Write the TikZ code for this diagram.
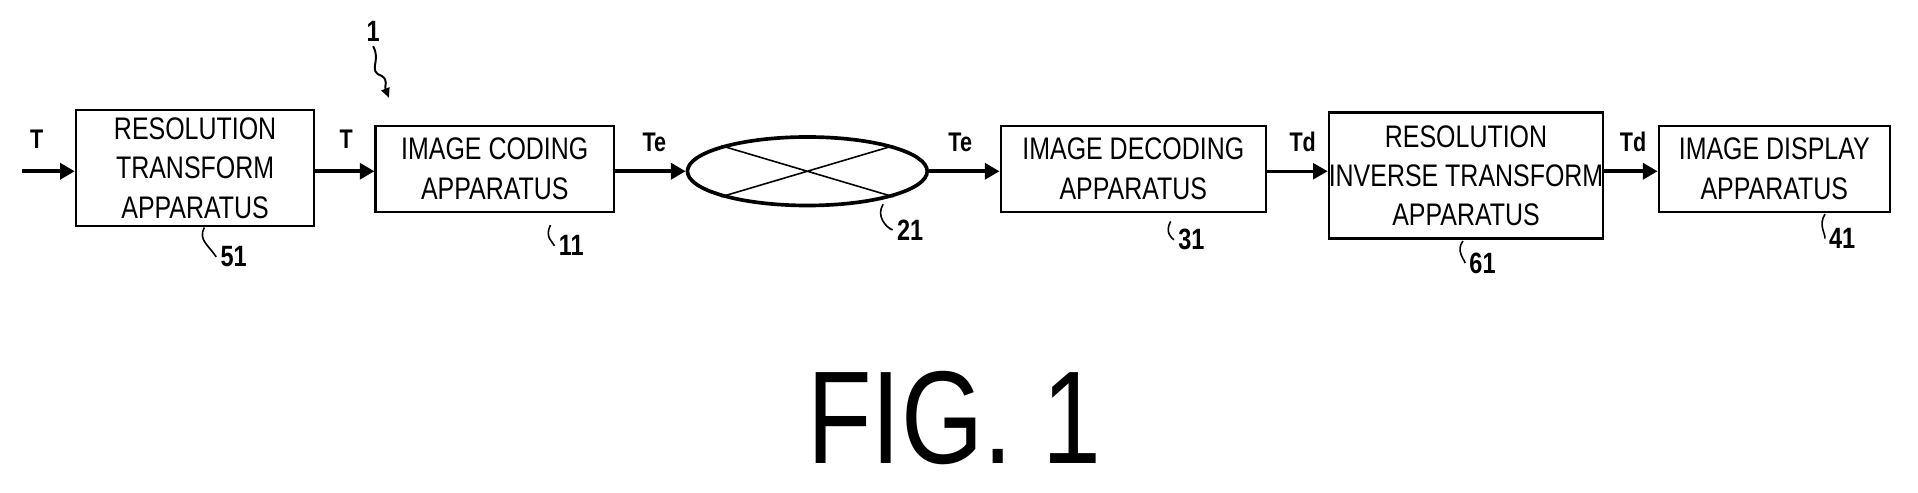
\documentclass[tikz,border=0pt]{standalone}
\usepackage{fontspec}
\setmainfont{Liberation Sans}[FakeStretch=0.8]
\usetikzlibrary{arrows.meta,shapes.geometric}
\begin{document}
\begin{tikzpicture}[x=1pt,y=-1pt,
  blk/.style={draw,line width=1.8pt,inner sep=0pt,align=center,font=\fontsize{25.5}{32}\selectfont},
  flow/.style={line width=3.4pt,-{Triangle[length=12pt,width=13pt]}},
  lbl/.style={font=\fontsize{22}{24}\selectfont\bfseries},
  refn/.style={font=\fontsize{24}{26}\selectfont\bfseries},
  lead/.style={line width=1.3pt}]
\useasboundingbox (0,0) rectangle (1568,403);
\node[blk,minimum width=195pt,minimum height=95pt] (b51) at (159.5,137.5) {RESOLUTION\\TRANSFORM\\APPARATUS};
\node[blk,minimum width=195pt,minimum height=70pt] (b11) at (404.5,138) {IMAGE CODING\\APPARATUS};
\node[draw,ellipse,line width=3pt,minimum width=196pt,minimum height=56pt,inner sep=0pt] (e21) at (660,140) {};
\draw[line width=1.3pt] (e21.north west) -- (e21.south east) (e21.north east) -- (e21.south west);
\node[blk,minimum width=217pt,minimum height=70pt] (b31) at (926.5,138) {IMAGE DECODING\\APPARATUS};
\node[blk,minimum width=223pt,minimum height=103pt] (b61) at (1198.5,143.5) {RESOLUTION\\INVERSE TRANSFORM\\APPARATUS};
\node[blk,minimum width=189pt,minimum height=70pt] (b41) at (1450.5,138) {IMAGE DISPLAY\\APPARATUS};
\coordinate (in) at (18,140);
\draw[flow] (in) -- (b51.west|-in);
\draw[flow] (b51.east|-in) -- (b11.west|-in);
\draw[flow] (b11.east|-in) -- (e21.west);
\draw[flow] (e21.east) -- (b31.west|-in);
\draw[flow,line width=2.2pt] (b31.east|-in) -- (b61.west|-in);
\draw[flow] (b61.east|-in) -- (b41.west|-in);
\node[lbl] (t1) at (30,114) {T};
\node[lbl] (t2) at (283,114) {T};
\node[lbl] (t3) at (535,116) {Te};
\node[lbl] (t4) at (785,116) {Te};
\node[lbl] (t5) at (1065,116) {Td};
\node[lbl] (t6) at (1335,116) {Td};
\node[refn] (n51) at (191,210) {51};
\node[refn] (n11) at (467,201) {11};
\node[refn] (n21) at (744,188) {21};
\node[refn] (n31) at (974,196) {31};
\node[refn] (n61) at (1212,215) {61};
\node[refn] (n41) at (1506,195) {41};
\node[refn] (n1) at (305,26) {1};
\draw[lead] (167,186) .. controls (162,196) and (170,200) .. (n51.west);
\draw[lead] (450,184) .. controls (445,194) and (452,198) .. (n11.west);
\draw[lead] (722,167) .. controls (716,176) and (724,186) .. (n21.west);
\draw[lead] (957,181) .. controls (952,190) and (958,195) .. (n31.west);
\draw[lead] (1196,197) .. controls (1190,205) and (1197,212) .. (n61.west);
\draw[lead] (1492,175) .. controls (1486,184) and (1493,192) .. (n41.west);
\draw[line width=1.6pt,-{Triangle[length=8pt,width=7pt]}] (n1.south) .. controls (312,50) and (300,58) .. (312,62) .. controls (318,66) and (314,70) .. (318,80);
\node[font=\fontsize{108}{110}\selectfont] (fig) at (780,342) {FIG. 1};
\end{tikzpicture}
\end{document}
